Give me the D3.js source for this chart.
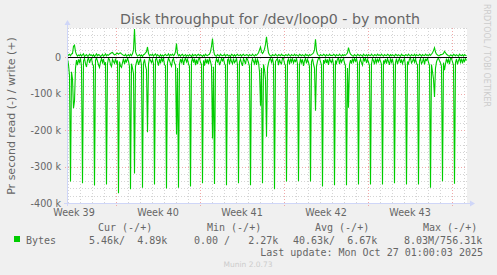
<!DOCTYPE html>
<html>
<head>
<meta charset="utf-8">
<script src="https://cdn.jsdelivr.net/npm/d3@7"></script>
<style>
  html, body { margin: 0; padding: 0; background: #f0f0f0; }
  svg { display: block; }
</style>
</head>
<body>
<svg id="chart" width="497" height="275"></svg>
<script>
// ---- data (k bytes per second), one sample every 2 hours ----
const startUTC = Date.UTC(2025, 8, 24, 22);   // first sample
const stepHours = 2;

// read bytes/s (plotted negative)
const readK = [
  5,20,50,341,40,60,140,120,30,8,22,6,
  14,3,25,346,10,4,18,27,8,2,16,7,
  3,19,24,352,9,2,11,21,28,13,4,15,
  5,22,14,349,18,3,7,20,26,6,12,17,
  4,16,9,373,12,24,28,15,4,19,8,13,
  3,11,26,362,18,30,45,319,25,14,5,21,
  12,4,22,358,16,6,24,35,206,19,3,9,
  15,6,18,349,7,3,13,23,5,17,2,11,
  4,20,24,360,14,3,9,18,25,8,4,16,
  22,212,30,358,19,5,14,3,21,9,2,13,
  6,18,26,355,12,3,15,4,22,7,19,5,
  3,14,20,346,9,23,4,17,6,19,3,12,
  25,223,26,348,15,4,13,6,22,14,3,10,
  4,17,23,351,8,5,20,3,12,18,4,15,
  11,3,21,346,13,6,16,24,4,10,19,3,
  6,15,25,351,17,4,11,18,3,21,6,14,
  40,133,30,346,20,35,60,218,30,16,6,4,
  14,3,19,362,12,7,4,22,6,15,18,3,
  4,17,23,341,11,5,20,4,13,3,16,8,
  12,3,18,340,21,4,15,6,24,10,3,17,
  6,14,26,341,13,4,19,30,147,25,11,3,
  3,12,22,355,8,18,4,16,6,21,3,11,
  15,4,20,351,9,17,5,3,19,4,14,7,
  4,16,24,351,30,139,20,8,18,4,13,3,
  11,4,17,349,14,5,15,22,3,10,3,16,
  6,14,23,349,18,4,10,20,3,15,6,13,
  4,11,20,349,9,16,5,18,4,12,21,3,
  14,5,22,346,15,4,19,9,3,16,6,18,
  9,3,25,349,12,18,5,3,16,11,4,14,
  5,17,21,349,10,4,18,13,3,20,6,9,
  3,14,23,358,20,40,60,109,30,13,5,3,
  10,16,25,340,15,36,18,4,14,6,19,3,
  4,13,22,347,15,5,20,9,3,14,4,17,
  6,12,4,9
];

// write bytes/s (plotted positive)
const writeK = [
  3,6,8,4,9,10,30,33,15,7,3,6,
  4,8,3,6,9,2,5,7,3,4,8,5,
  6,3,7,2,5,9,4,7,6,2,4,8,
  3,5,9,4,7,5,8,10,12,13,9,6,
  7,10,11,8,11,12,9,7,5,4,8,3,
  5,7,3,8,4,9,20,77,15,7,3,5,
  7,3,6,2,7,8,12,15,28,10,4,7,
  5,8,3,6,9,3,7,4,2,7,3,6,
  3,6,8,4,5,9,3,7,5,8,4,7,
  15,37,10,4,7,3,6,8,3,5,7,3,
  6,3,7,5,2,8,4,6,7,3,6,8,
  4,7,5,2,6,3,8,5,4,7,8,15,
  30,51,20,7,4,3,7,5,3,8,5,4,
  5,8,3,6,7,3,5,2,8,6,3,7,
  3,6,8,4,5,7,3,6,8,4,5,7,
  6,3,7,5,4,8,5,3,7,5,8,12,
  20,28,15,10,14,22,35,56,30,12,6,4,
  3,7,5,4,8,5,3,7,6,4,8,5,
  5,3,7,6,4,8,5,3,7,5,4,8,
  4,7,5,3,8,6,4,7,5,3,8,5,
  6,3,7,5,7,9,12,20,49,18,8,5,
  3,7,5,4,8,6,3,7,5,4,8,5,
  5,4,8,6,3,7,5,4,8,5,3,7,
  4,7,5,8,12,26,15,8,6,4,3,7,
  5,3,8,6,4,7,5,3,8,5,4,7,
  3,7,5,4,8,5,3,7,6,4,8,5,
  6,4,8,5,3,7,5,4,8,6,3,7,
  4,7,5,3,8,6,4,7,5,3,8,5,
  5,3,7,6,4,8,5,3,7,5,4,8,
  3,7,5,4,8,6,3,7,5,4,8,5,
  6,4,8,5,8,12,18,26,14,8,6,4,
  4,7,7,8,10,16,12,8,6,4,3,6,
  5,3,8,6,4,7,5,3,8,5,4,7,
  3,7,5,4
];

const yMajorTicks = [0, -100, -200, -300, -400];
const yTickLabels = ["0", "-100 k", "-200 k", "-300 k", "-400 k"];

const titleText = "Disk throughput for /dev/loop0 - by month";
const yAxisTitle = "Pr second read (-) / write (+)";
const legendHeaders = ["Cur (-/+)", "Min (-/+)", "Avg (-/+)", "Max (-/+)"];
const legendName = "Bytes";
const legendValues = ["5.46k/  4.89k", "0.00 /   2.27k", "40.63k/  6.67k", "8.03M/756.31k"];
const lastUpdate = "Last update: Mon Oct 27 01:00:03 2025";
const watermark = "Munin 2.0.73";
const sideText = "RRDTOOL / TOBI OETIKER";

// ---- layout ----
const svg = d3.select("#chart");
const L = 67, R = 467, T = 28, B = 203;
const lineColor = "#00cc00";
const fontColor = "#666666";
const axisColor = "#cfd6f8";

const t0 = new Date(startUTC);
const nSamples = 400;
const t1 = new Date(startUTC + nSamples * stepHours * 3600e3);
const x = d3.scaleUtc().domain([t0, t1]).range([L, R]);
const y = d3.scaleLinear().domain([-400, 80]).range([B, T]);

const times = readK.map((_, i) => new Date(startUTC + i * stepHours * 3600e3));

// canvas
svg.append("rect").attr("x", L).attr("y", T).attr("width", R - L).attr("height", B - T).attr("fill", "#ffffff");

// minor grid (horizontal every 20k)
const minorY = d3.range(-380, 81, 20).filter(v => v % 100 !== 0);
svg.append("g").selectAll("line").data(minorY).join("line")
  .attr("x1", L).attr("x2", R)
  .attr("y1", d => Math.round(y(d)) + 0.5).attr("y2", d => Math.round(y(d)) + 0.5)
  .attr("stroke", "#d4d4d4").attr("stroke-dasharray", "1,2");

// minor grid (vertical daily)
const days = d3.utcDay.range(t0, t1).filter(d => d.getUTCDay() !== 1);
svg.append("g").selectAll("line").data(days).join("line")
  .attr("x1", d => Math.round(x(d)) + 0.5).attr("x2", d => Math.round(x(d)) + 0.5)
  .attr("y1", T).attr("y2", B + 2)
  .attr("stroke", "#d4d4d4").attr("stroke-dasharray", "1,2");

// major grid
svg.append("g").selectAll("line").data(yMajorTicks).join("line")
  .attr("x1", L - 2).attr("x2", R)
  .attr("y1", d => Math.round(y(d)) + 0.5).attr("y2", d => Math.round(y(d)) + 0.5)
  .attr("stroke", "#f0a8a8").attr("stroke-dasharray", "1,2");
const weeks = d3.utcMonday.range(t0, t1);
svg.append("g").selectAll("line").data(weeks).join("line")
  .attr("x1", d => Math.round(x(d)) + 0.5).attr("x2", d => Math.round(x(d)) + 0.5)
  .attr("y1", T).attr("y2", B + 3)
  .attr("stroke", "#f0a8a8").attr("stroke-dasharray", "1,2");

// series
const lineRead = d3.line().x((d, i) => x(times[i]) + 0.5).y(d => y(-d));
const lineWrite = d3.line().x((d, i) => x(times[i]) + 0.5).y(d => y(d));
svg.append("path").datum(readK).attr("d", lineRead)
  .attr("fill", "none").attr("stroke", lineColor).attr("stroke-width", 1.1);
svg.append("path").datum(writeK).attr("d", lineWrite)
  .attr("fill", "none").attr("stroke", lineColor).attr("stroke-width", 1.1);

// zero line
svg.append("line").attr("x1", L).attr("x2", R)
  .attr("y1", Math.round(y(0)) + 0.5).attr("y2", Math.round(y(0)) + 0.5)
  .attr("stroke", "#000").attr("stroke-width", 1);

// axes
svg.append("line").attr("x1", L - 3).attr("x2", R + 4).attr("y1", B + 0.5).attr("y2", B + 0.5).attr("stroke", axisColor);
svg.append("path").attr("d", `M${R + 8},${B + 0.5} L${R + 3},${B - 2.5} L${R + 3},${B + 3.5} Z`).attr("fill", axisColor);
svg.append("line").attr("x1", L + 0.5).attr("x2", L + 0.5).attr("y1", B + 3).attr("y2", T - 4).attr("stroke", axisColor);
svg.append("path").attr("d", `M${L + 0.5},${T - 8} L${L - 2.5},${T - 3} L${L + 3.5},${T - 3} Z`).attr("fill", axisColor);

// y tick labels
svg.append("g").selectAll("text").data(yMajorTicks).join("text")
  .attr("x", 61).attr("y", d => y(d) + 3.5)
  .attr("text-anchor", "end")
  .attr("font-family", "DejaVu Sans").attr("font-size", 9.6)
  .attr("fill", fontColor)
  .text((d, i) => yTickLabels[i]);

// x week labels
const labelWeeks = d3.utcMonday.range(d3.utcDay.offset(t0, -7), t1)
  .filter(d => { const c = d3.utcHour.offset(d, 84); return c >= t0 && c <= t1; });
svg.append("g").selectAll("text").data(labelWeeks).join("text")
  .attr("x", d => x(d3.utcHour.offset(d, 84)))
  .attr("y", 216)
  .attr("text-anchor", "middle")
  .attr("font-family", "DejaVu Sans").attr("font-size", 9.6)
  .attr("fill", fontColor)
  .text(d => "Week " + d3.utcFormat("%V")(d));

// title
svg.append("text").attr("x", 270).attr("y", 24).attr("text-anchor", "middle")
  .attr("font-family", "DejaVu Sans").attr("font-size", 14.2)
  .attr("fill", fontColor).text(titleText);

// y axis title
svg.append("text").attr("transform", "translate(15,116) rotate(-90)")
  .attr("text-anchor", "middle")
  .attr("font-family", "DejaVu Sans").attr("font-size", 11)
  .attr("fill", fontColor).text(yAxisTitle);

// side watermark
svg.append("text").attr("transform", "translate(484,4) rotate(90)")
  .attr("font-family", "DejaVu Sans").attr("font-size", 8)
  .attr("fill", "#cccccc").text(sideText);

// legend
const mono = "DejaVu Sans Mono";
const headerX = [98, 207, 315, 423];
const valueX = [89, 194, 293, 404];
svg.append("g").selectAll("text").data(legendHeaders).join("text")
  .attr("x", (d, i) => headerX[i]).attr("y", 231)
  .attr("font-family", mono).attr("font-size", 10).attr("fill", fontColor)
  .style("white-space", "pre")
  .text(d => d);
svg.append("rect").attr("x", 14).attr("y", 236).attr("width", 6).attr("height", 6).attr("fill", lineColor);
svg.append("text").attr("x", 26).attr("y", 243.5)
  .attr("font-family", mono).attr("font-size", 10).attr("fill", fontColor).text(legendName);
svg.append("g").selectAll("text").data(legendValues).join("text")
  .attr("x", (d, i) => valueX[i]).attr("y", 243.5)
  .attr("font-family", mono).attr("font-size", 10).attr("fill", fontColor)
  .style("white-space", "pre")
  .text(d => d);
svg.append("text").attr("x", 483).attr("y", 255.5).attr("text-anchor", "end")
  .attr("font-family", mono).attr("font-size", 10).attr("fill", fontColor)
  .style("white-space", "pre").text(lastUpdate);
svg.append("text").attr("x", 248).attr("y", 267).attr("text-anchor", "middle")
  .attr("font-family", "DejaVu Sans").attr("font-size", 7.5)
  .attr("fill", "#cccccc").text(watermark);
</script>
</body>
</html>
